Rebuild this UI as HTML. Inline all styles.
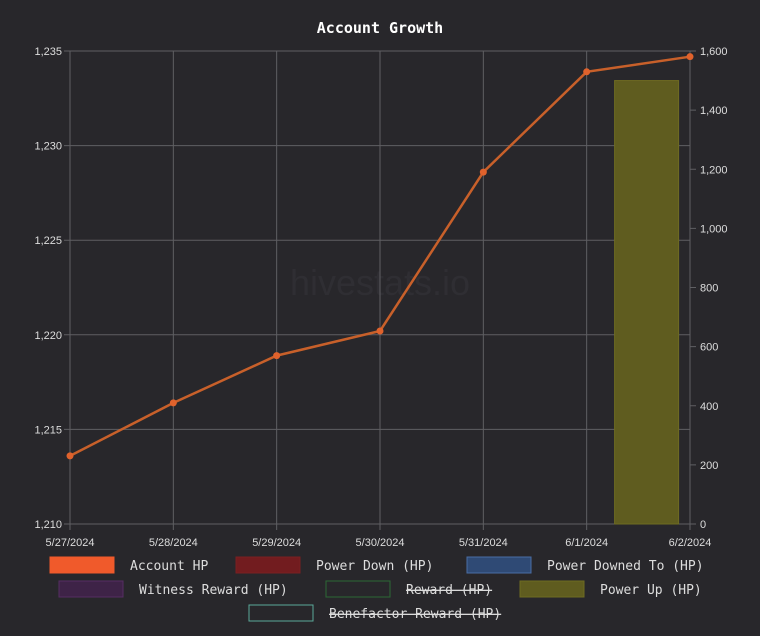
<!DOCTYPE html>
<html><head><meta charset="utf-8"><style>
body{margin:0;background:#28272b;}
svg{display:block;}
text{font-family:"Liberation Sans",sans-serif;fill:#ddd;font-size:11px;}
.mono{font-family:"DejaVu Sans Mono","Liberation Mono",monospace;font-size:13px;fill:#ddd;}
</style></head><body>
<svg id="c" width="760" height="636">
<rect width="760" height="636" fill="#28272b"/>
<text x="380" y="33" text-anchor="middle" class="mono" style="font-weight:bold;font-size:15px;fill:#fff">Account Growth</text>
<text x="380" y="295" text-anchor="middle" style="font-size:36px;fill:#2f2e33">hivestats.io</text>
<g id="grid"></g><g id="bars"></g><g id="line"></g><g id="axes"></g><g id="legend"></g>
</svg>
<script>
const categories=["5/27/2024","5/28/2024","5/29/2024","5/30/2024","5/31/2024","6/1/2024","6/2/2024"];
const accountHP=[1213.6,1216.4,1218.9,1220.2,1228.6,1233.9,1234.7];
const powerUp=[0,0,0,0,0,1500,0];
const leftTicks=[1210,1215,1220,1225,1230,1235];
const rightTicks=[0,200,400,600,800,1000,1200,1400,1600];
const NS="http://www.w3.org/2000/svg";
const L=70,R=690,T=51,B=524;
const xs=i=>L+(R-L)*i/(categories.length-1);
const yl=v=>B-(v-1210)/25*(B-T);
const yr=v=>B-v/1600*(B-T);
function mk(tag,attrs,parent){const e=document.createElementNS(NS,tag);for(const k in attrs)e.setAttribute(k,attrs[k]);document.getElementById(parent).appendChild(e);return e;}
const fmt=v=>v.toLocaleString("en-US");
leftTicks.forEach(v=>{
 const l=mk("line",{x1:L-6,x2:R,y1:yl(v),y2:yl(v),stroke:"#5f5f63"},"grid");
 
 
 const t=mk("text",{x:L-8,y:yl(v)+4,"text-anchor":"end"},"axes");t.textContent=fmt(v);
 
 
});
rightTicks.forEach(v=>{
 const l=mk("line",{x1:R,x2:R+6,y1:yr(v),y2:yr(v),stroke:"#5f5f63"},"grid");
 
 
 const t=mk("text",{x:R+10,y:yr(v)+4},"axes");t.textContent=fmt(v);
 
 
});
categories.forEach((c,i)=>{
 const l=mk("line",{x1:xs(i),x2:xs(i),y1:T,y2:B+6,stroke:"#5f5f63"},"grid");
 
 
 const t=mk("text",{x:xs(i),y:B+22,"text-anchor":"middle"},"axes");t.textContent=c;
 
 
});
const step=(R-L)/(categories.length-1);
powerUp.forEach((v,i)=>{
 if(!v)return;
 const cx=xs(i)+step*0.58,w=64;
 const b=mk("rect",{x:cx-w/2,y:yr(v),width:w,height:B-yr(v),fill:"#5f5c1f",stroke:"#6e6b22"},"bars");
 
 
});
const p=mk("polyline",{points:accountHP.map((v,i)=>xs(i)+","+yl(v)).join(" "),fill:"none",stroke:"#c8602a","stroke-width":2.5},"line");


accountHP.forEach((v,i)=>{
 const c=mk("circle",{cx:xs(i),cy:yl(v),r:3.5,fill:"#e0622c"},"line");
 
 
});
const legend=[
 [50,557,"Account HP","#f05a2b","#f05a2b",false],[236,557,"Power Down (HP)","#721c1f","#7a1f22",false],[467,557,"Power Downed To (HP)","#2f4a75","#4a6ea5",false],
 [59,581,"Witness Reward (HP)","#3e2347","#562e63",false],[326,581,"Reward (HP)","#28272b","#2b6a35",true],[520,581,"Power Up (HP)","#5f5c1f","#6e6b22",false],
 [249,605,"Benefactor Reward (HP)","#28272b","#5aa89a",true]];
legend.forEach(([x,y,label,f,s,hid])=>{
 const r=mk("rect",{x:x,y:y,width:64,height:16,fill:f,stroke:s},"legend");
 
 
 const t=mk("text",{x:x+80,y:y+13,class:"mono"},"legend");t.textContent=label;
 if(hid)t.setAttribute("text-decoration","line-through");
 
 
});
</script>
</body></html>
